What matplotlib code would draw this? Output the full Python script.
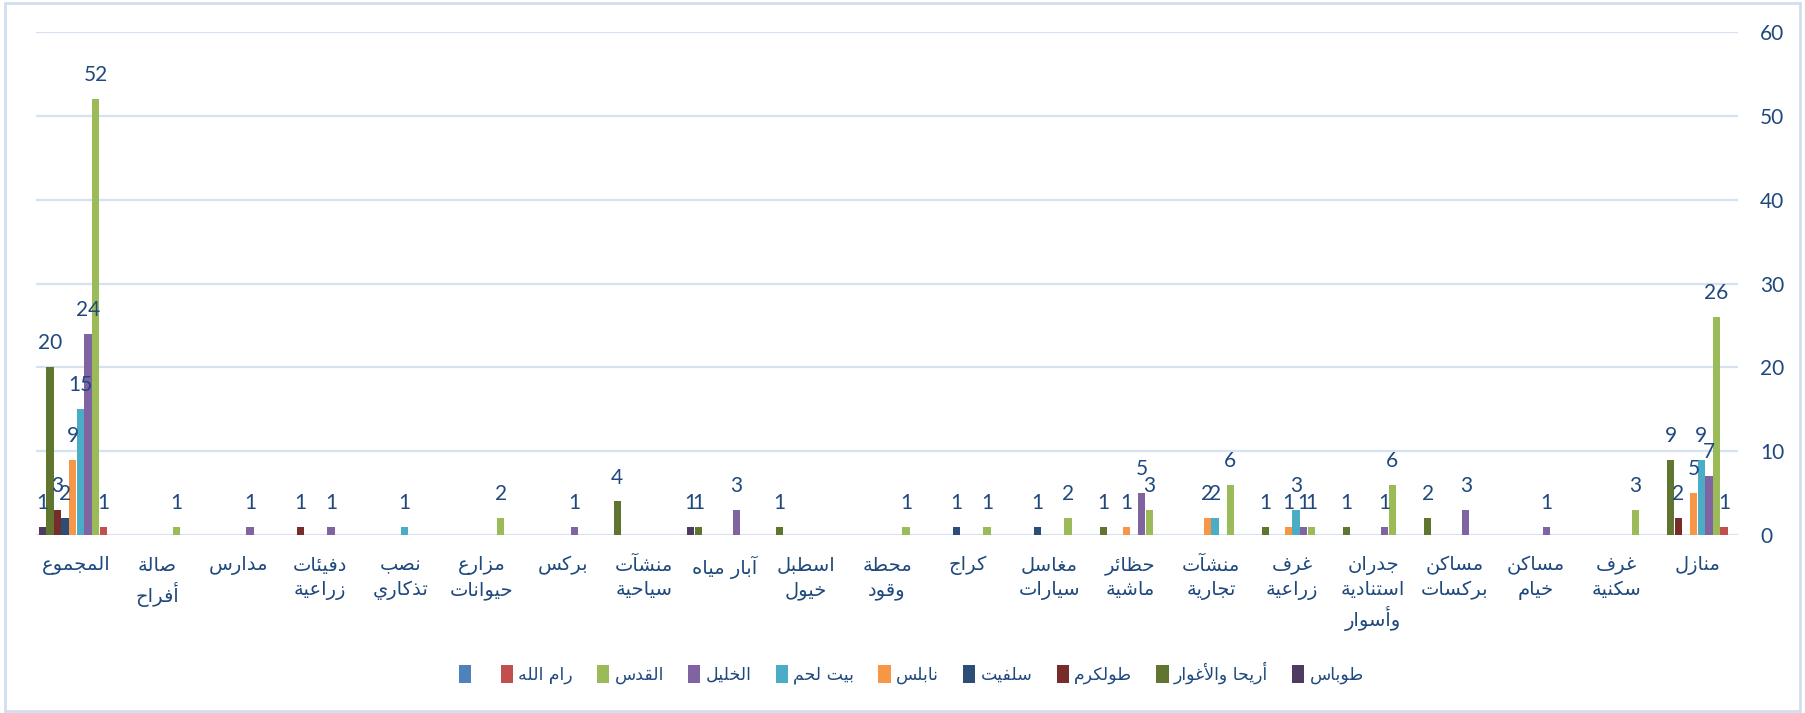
import matplotlib
matplotlib.use("Agg")
import matplotlib.pyplot as plt
from matplotlib.patches import Patch, Rectangle

# categories in sheet order (first one ends up on the right, axis is reversed)
categories = ["منازل", "غرف\nسكنية", "مساكن\nخيام", "مساكن\nبركسات",
              "جدران\nاستنادية\nوأسوار", "غرف\nزراعية", "منشآت\nتجارية",
              "حظائر\nماشية", "مغاسل\nسيارات", "كراج", "محطة\nوقود",
              "اسطبل\nخيول", "آبار مياه", "منشآت\nسياحية", "بركس",
              "مزارع\nحيوانات", "نصب\nتذكاري", "دفيئات\nزراعية", "مدارس",
              "صالة\nأفراح", "المجموع"]

series_names = ["طوباس", "أريحا والأغوار", "طولكرم", "سلفيت", "نابلس",
                "بيت لحم", "الخليل", "القدس", "رام الله", ""]

tubas     = [0, 0, 0, 0, 0, 0, 0, 0, 0, 0, 0, 0, 1, 0, 0, 0, 0, 0, 0, 0, 1]
jericho   = [9, 0, 0, 2, 1, 1, 0, 1, 0, 0, 0, 1, 1, 4, 0, 0, 0, 0, 0, 0, 20]
tulkarm   = [2, 0, 0, 0, 0, 0, 0, 0, 0, 0, 0, 0, 0, 0, 0, 0, 0, 1, 0, 0, 3]
salfit    = [0, 0, 0, 0, 0, 0, 0, 0, 1, 1, 0, 0, 0, 0, 0, 0, 0, 0, 0, 0, 2]
nablus    = [5, 0, 0, 0, 0, 1, 2, 1, 0, 0, 0, 0, 0, 0, 0, 0, 0, 0, 0, 0, 9]
bethlehem = [9, 0, 0, 0, 0, 3, 2, 0, 0, 0, 0, 0, 0, 0, 0, 0, 1, 0, 0, 0, 15]
hebron    = [7, 0, 1, 3, 1, 1, 0, 5, 0, 0, 0, 0, 3, 0, 1, 0, 0, 1, 1, 0, 24]
jerusalem = [26, 3, 0, 0, 6, 1, 6, 3, 2, 1, 1, 0, 0, 0, 0, 2, 0, 0, 0, 1, 52]
ramallah  = [1, 0, 0, 0, 0, 0, 0, 0, 0, 0, 0, 0, 0, 0, 0, 0, 0, 0, 0, 0, 1]
blank     = [0, 0, 0, 0, 0, 0, 0, 0, 0, 0, 0, 0, 0, 0, 0, 0, 0, 0, 0, 0, 0]

series = [tubas, jericho, tulkarm, salfit, nablus, bethlehem, hebron,
          jerusalem, ramallah, blank]
colors = ["#4D3B62", "#5F7530", "#772C2A", "#2C4D75", "#F79646",
          "#4BACC6", "#8064A2", "#9BBB59", "#C0504D", "#4F81BD"]

TXT = "#1F497D"

# --- arabic shaping (matplotlib has no bidi / joining) ---
# letter: (isolated, final, initial, medial)
FORMS = {
    'ء': ('\uFE80', None, None, None),
    'آ': ('\uFE81', '\uFE82', None, None),
    'أ': ('\uFE83', '\uFE84', None, None),
    'ؤ': ('\uFE85', '\uFE86', None, None),
    'إ': ('\uFE87', '\uFE88', None, None),
    'ئ': ('\uFE89', '\uFE8A', '\uFE8B', '\uFE8C'),
    'ا': ('\uFE8D', '\uFE8E', None, None),
    'ب': ('\uFE8F', '\uFE90', '\uFE91', '\uFE92'),
    'ة': ('\uFE93', '\uFE94', None, None),
    'ت': ('\uFE95', '\uFE96', '\uFE97', '\uFE98'),
    'ث': ('\uFE99', '\uFE9A', '\uFE9B', '\uFE9C'),
    'ج': ('\uFE9D', '\uFE9E', '\uFE9F', '\uFEA0'),
    'ح': ('\uFEA1', '\uFEA2', '\uFEA3', '\uFEA4'),
    'خ': ('\uFEA5', '\uFEA6', '\uFEA7', '\uFEA8'),
    'د': ('\uFEA9', '\uFEAA', None, None),
    'ذ': ('\uFEAB', '\uFEAC', None, None),
    'ر': ('\uFEAD', '\uFEAE', None, None),
    'ز': ('\uFEAF', '\uFEB0', None, None),
    'س': ('\uFEB1', '\uFEB2', '\uFEB3', '\uFEB4'),
    'ش': ('\uFEB5', '\uFEB6', '\uFEB7', '\uFEB8'),
    'ص': ('\uFEB9', '\uFEBA', '\uFEBB', '\uFEBC'),
    'ض': ('\uFEBD', '\uFEBE', '\uFEBF', '\uFEC0'),
    'ط': ('\uFEC1', '\uFEC2', '\uFEC3', '\uFEC4'),
    'ظ': ('\uFEC5', '\uFEC6', '\uFEC7', '\uFEC8'),
    'ع': ('\uFEC9', '\uFECA', '\uFECB', '\uFECC'),
    'غ': ('\uFECD', '\uFECE', '\uFECF', '\uFED0'),
    'ف': ('\uFED1', '\uFED2', '\uFED3', '\uFED4'),
    'ق': ('\uFED5', '\uFED6', '\uFED7', '\uFED8'),
    'ك': ('\uFED9', '\uFEDA', '\uFEDB', '\uFEDC'),
    'ل': ('\uFEDD', '\uFEDE', '\uFEDF', '\uFEE0'),
    'م': ('\uFEE1', '\uFEE2', '\uFEE3', '\uFEE4'),
    'ن': ('\uFEE5', '\uFEE6', '\uFEE7', '\uFEE8'),
    'ه': ('\uFEE9', '\uFEEA', '\uFEEB', '\uFEEC'),
    'و': ('\uFEED', '\uFEEE', None, None),
    'ي': ('\uFEF1', '\uFEF2', '\uFEF3', '\uFEF4'),
}
LAM_ALEF = {'آ': ('\uFEF5', '\uFEF6'), 'أ': ('\uFEF7', '\uFEF8'),
            'إ': ('\uFEF9', '\uFEFA'), 'ا': ('\uFEFB', '\uFEFC')}


def dual(c):
    return c in FORMS and FORMS[c][2] is not None


def shape_line(s):
    out = []
    i = 0
    n = len(s)
    while i < n:
        c = s[i]
        prev = s[i - 1] if i > 0 else None
        if c == 'ل' and i + 1 < n and s[i + 1] in LAM_ALEF:
            iso, fin = LAM_ALEF[s[i + 1]]
            out.append(fin if prev and dual(prev) else iso)
            i += 2
            continue
        if c not in FORMS:
            out.append(c)
            i += 1
            continue
        nxt = s[i + 1] if i + 1 < n else None
        p = prev is not None and dual(prev) and FORMS[c][1] is not None
        q = dual(c) and nxt is not None and nxt in FORMS
        iso, fin, ini, med = FORMS[c]
        if p and q:
            out.append(med)
        elif p:
            out.append(fin)
        elif q:
            out.append(ini)
        else:
            out.append(iso)
        i += 1
    return ''.join(reversed(out))


def ar(s):
    return '\n'.join(shape_line(l) for l in s.split('\n'))


plt.rcParams['font.family'] = ['DejaVu Sans']
NUMFONT = ['Lato', 'DejaVu Sans']

fig = plt.figure(figsize=(18.05, 7.13), dpi=100)
ax = fig.add_axes([36 / 1805, 178 / 713, (1738 - 36) / 1805, 503 / 713])

slot = 0.094
bw = 0.09
x = list(range(len(categories)))
for k, (vals, col) in enumerate(zip(series, colors)):
    xs = [i + (4.5 - k) * slot for i in x]
    ax.bar(xs, vals, width=bw, color=col, zorder=3)
    for xi, v in zip(xs, vals):
        if v:
            ax.annotate(str(v), (xi, v), xytext=(0, 10), textcoords="offset points",
                        ha="center", va="bottom", fontsize=15, color=TXT,
                        family=NUMFONT, zorder=4)

ax.set_xlim(len(categories) - 0.5, -0.5)
ax.set_ylim(0, 60)
ax.set_yticks(range(0, 61, 10))
ax.yaxis.tick_right()
ax.grid(axis="y", color="#D6E2F1", lw=1.6, zorder=0)
ax.set_axisbelow(True)
for s in ax.spines.values():
    s.set_visible(False)
ax.tick_params(axis="y", length=0, pad=16, labelsize=15, labelcolor=TXT)
for t in ax.get_yticklabels():
    t.set_family(NUMFONT)
ax.set_xticks(x)
ax.set_xticklabels([ar(c) for c in categories], fontsize=14, color=TXT,
                   linespacing=1.35, va="top")
ax.tick_params(axis="x", length=0, pad=15)

# legend goes right-to-left like the arabic excel legend
handles = [Patch(facecolor=c, edgecolor="none") for c in colors][::-1]
labels = [ar(n) for n in series_names][::-1]
fig.legend(handles, labels, loc="center", bbox_to_anchor=(0.505, 1 - 673 / 713),
           ncol=len(handles), frameon=False, fontsize=12.5, labelcolor=TXT,
           handlelength=0.7, handleheight=1.3, handletextpad=0.3,
           columnspacing=1.4)

fig.patches.append(Rectangle((5 / 1805, 2 / 713), 1795 / 1805, 708 / 713,
                             transform=fig.transFigure, fill=False,
                             ec="#D0DEEF", lw=2))

fig.savefig("out.png", dpi=100)
